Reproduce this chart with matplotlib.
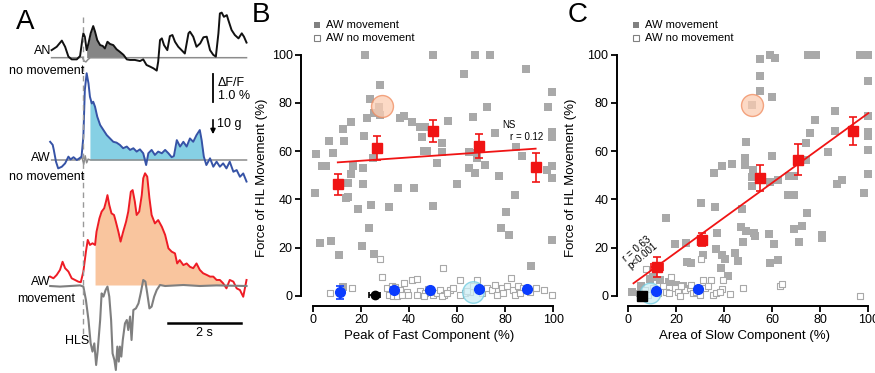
"""Calcium traces and force scatter plots (panels A-C)."""
import matplotlib
matplotlib.use("Agg")
import matplotlib.pyplot as plt
import numpy as np

plt.rcParams["font.family"] = ["Liberation Sans", "DejaVu Sans"]

W, H = 875, 373

# ---------------- panel A traces (time in s, stimulus at 0) ----------------
an_t = [-0.86, -0.72, -0.58, -0.49, -0.40, -0.31, -0.17, -0.08, -0.02, 0.01, 0.05, 0.10, 0.15,
        0.21, 0.28, 0.33, 0.39, 0.47, 0.54, 0.60, 0.67, 0.74, 0.83, 0.92, 1.01, 1.11, 1.20, 1.29,
        1.42, 1.56, 1.65, 1.74, 1.84, 1.93, 2.02, 2.06, 2.11, 2.16, 2.22, 2.31, 2.38, 2.45, 2.52,
        2.61, 2.70, 2.79, 2.89, 2.93, 3.02, 3.11, 3.21, 3.30, 3.39, 3.48, 3.57, 3.64, 3.71, 3.75,
        3.80, 3.86, 3.94, 3.98, 4.07, 4.16, 4.26, 4.35, 4.41, 4.48]
an_dff = [0.27, 0.39, 0.61, 0.39, 0.04, -0.06, -0.06, 0.06, 0.63, 0.87, 0.75, 0.27, 0.51,
          0.87, 1.13, 0.93, 0.63, 0.45, 0.42, 0.33, 0.57, 0.49, 0.45, 0.30, 0.21, 0.10, -0.06, -0.08,
          -0.08, -0.12, -0.06, -0.26, -0.32, -0.38, -0.46, -0.14, 0.63, 0.69, 0.45, 0.27, 0.77, 0.81, 0.57,
          0.39, 0.27, 0.15, 0.87, 0.93, 0.75, 0.39, 0.51, 0.73, 0.75, 0.27, 0.10, 0.04, 0.87, 1.58,
          1.61, 1.46, 1.52, 1.35, 0.99, 0.81, 0.69, 0.87, 0.75, 0.54]
an_base_t = [-0.86, -0.10, -0.02, 0.03, 0.08, 0.14, 0.20, 4.48]
an_base = [0.0, 0.0, 0.02, -0.12, -0.15, -0.06, 0.0, 0.0]

blue_t = [-0.90, -0.83, -0.80, -0.74, -0.68, -0.58, -0.49, -0.40, -0.34, -0.26, -0.17, -0.10, -0.04,
          0.01, 0.05, 0.10, 0.15, 0.19, 0.24, 0.28, 0.33, 0.39, 0.47, 0.56, 0.65, 0.74, 0.83, 0.92,
          1.01, 1.10, 1.20, 1.29, 1.38, 1.47, 1.56, 1.65, 1.73, 1.79, 1.88, 1.97, 2.06, 2.16, 2.25,
          2.34, 2.43, 2.49, 2.57, 2.66, 2.75, 2.84, 2.93, 3.02, 3.11, 3.20, 3.25, 3.31, 3.38, 3.48,
          3.57, 3.66, 3.75, 3.84, 3.93, 4.02, 4.12, 4.21, 4.30, 4.39, 4.48]
blue_dff = [0.65, 0.54, 0.36, -0.06, -0.30, -0.24, -0.12, 0.12, 0.02, 0.10, 0.0, 0.06, 0.12,
            0.83, 2.50, 3.10, 2.74, 2.26, 2.02, 2.08, 1.90, 1.55, 1.25, 1.07, 0.89, 0.77, 0.65, 0.62,
            0.54, 0.42, 0.48, 0.36, 0.42, 0.30, 0.38, 0.24, -0.18, 0.24, 0.36, 0.18, 0.30, 0.24, 0.36,
            0.24, 0.10, 0.14, 0.71, 0.48, 0.65, 0.48, 0.77, 0.65, 0.89, 1.07, 0.71, 0.12, -0.18, 0.06,
            -0.24, -0.06, -0.24, -0.12, -0.30, -0.06, -0.42, -0.36, -0.60, -0.48, -0.77]
blue_base_t = [-0.86, -0.10, -0.03, 0.02, 0.06, 0.10, 0.14, 0.20, 4.48]
blue_base = [0.0, 0.0, 0.10, -0.15, 0.15, -0.10, 0.03, 0.0, 0.0]

red_t = [-0.90, -0.81, -0.72, -0.63, -0.56, -0.49, -0.40, -0.31, -0.22, -0.13, -0.06, 0.01, 0.08,
         0.13, 0.19, 0.26, 0.33, 0.37, 0.45, 0.51, 0.58, 0.63, 0.67, 0.72, 0.78, 0.85, 0.90, 0.97,
         1.03, 1.10, 1.18, 1.24, 1.31, 1.36, 1.42, 1.47, 1.54, 1.61, 1.65, 1.70, 1.76, 1.82, 1.88,
         1.97, 2.06, 2.16, 2.25, 2.34, 2.43, 2.52, 2.58, 2.65, 2.75, 2.84, 2.93, 3.02, 3.11, 3.20,
         3.29, 3.39, 3.48, 3.57, 3.66, 3.75, 3.84, 3.93, 4.02, 4.12, 4.21, 4.30, 4.39, 4.48]
red_dff = [0.30, 0.24, 0.36, 0.54, 0.83, 0.60, 0.48, 0.24, 0.18, 0.12, 0.10, 0.48, 1.19,
           1.61, 1.43, 1.49, 1.43, 1.90, 2.38, 2.62, 2.74, 2.98, 3.21, 2.86, 2.56, 2.50, 2.26, 1.90,
           1.55, 1.90, 2.26, 2.62, 3.33, 3.39, 2.98, 2.50, 2.62, 3.21, 3.81, 3.99, 3.87, 3.10, 2.50,
           2.20, 2.32, 2.08, 1.79, 1.31, 1.19, 1.13, 0.77, 0.89, 0.71, 0.77, 0.65, 0.60, 0.77, 0.54,
           0.42, 0.36, 0.30, 0.30, 0.18, 0.18, 0.06, -0.12, 0.18, 0.12, -0.12, -0.18, -0.42, 0.18]

hls_t = [-0.90, -0.63, -0.35, -0.08, 0.01, 0.08, 0.15, 0.21, 0.26, 0.31, 0.36, 0.40, 0.47, 0.51,
         0.56, 0.62, 0.67, 0.72, 0.77, 0.81, 0.86, 0.90, 0.94, 0.98, 1.01, 1.05, 1.09, 1.15, 1.20,
         1.24, 1.29, 1.33, 1.38, 1.45, 1.52, 1.58, 1.65, 1.71, 1.76, 1.82, 1.88, 1.95, 2.02, 2.11,
         2.25, 2.75, 3.20, 3.66, 4.48]
hls_g = [0.0, -0.3, 0.0, 0.3, -0.3, -7.0, -17.0, -28.7, -32.8, -28.7, -39.5, -32.8, -17.0, -3.7,
         -5.3, -2.0, -0.3, -5.3, -17.0, -33.7, -37.0, -42.0, -30.3, -37.8, -30.3, -35.3, -27.0, -18.7, -17.0,
         -22.0, -15.3, -27.0, -12.0, -11.2, -8.7, -3.7, 3.0, 2.2, -3.7, -11.2, -10.3, -5.3, -2.0, 0.5,
         0.0, 0.5, 0.0, 0.3, 0.0]

# ---------------- panel B: peak of fast component ----------------
b_move_x = [1.4, 3.9, 5.5, 6.6, 8.3, 12.6, 13.1, 14.5, 16.0, 16.7, 16.0, 20.9, 20.9, 21.4, 21.6, 22.5,
            23.9, 25.3, 27.4, 28.1, 28.1, 25.0, 36.1, 38.0, 41.2, 44.4, 46.7, 45.4, 46.1, 47.4, 50.2,
            51.6, 53.7, 53.7, 56.4, 63.0, 64.9, 65.1, 66.8, 67.5, 67.5, 68.2, 68.5, 71.7, 72.3, 73.7,
            75.8, 77.5, 84.4, 86.9, 88.5, 97.5, 97.9, 99.7, 99.7, 99.7, 99.7, 99.7, 35.4, 42.3, 59.9,
            1.1, 2.9, 7.7, 10.8, 14.0, 14.5, 12.6, 18.8, 20.6, 23.4, 24.4, 25.3, 31.7, 49.9, 78.4,
            80.4, 81.7, 84.1, 90.6, 99.7]
b_move_y = [58.8, 53.9, 53.8, 64.0, 59.0, 69.2, 64.1, 46.6, 50.3, 53.9, 71.9, 46.3, 53.1, 66.3, 100.0, 73.5,
            81.4, 75.9, 78.3, 87.2, 74.9, 57.0, 73.5, 74.5, 72.1, 70.1, 70.1, 65.9, 60.1, 60.1, 100.0,
            54.9, 63.2, 59.7, 72.6, 92.1, 59.7, 52.8, 74.2, 100.0, 50.8, 57.0, 59.3, 54.2, 78.3, 100.0,
            67.3, 49.7, 61.5, 57.9, 93.8, 52.1, 78.3, 84.6, 68.0, 65.9, 53.9, 48.7, 44.5, 44.5, 46.5,
            42.7, 21.9, 22.9, 17.0, 40.6, 41.0, 3.5, 36.0, 20.5, 28.1, 37.7, 17.3, 36.8, 37.1, 28.1,
            34.8, 25.1, 42.0, 12.5, 23.0]
b_still_x = [7.1, 16.3, 28.1, 29.0, 30.8, 32.9, 34.3, 36.4, 37.8, 39.1, 41.2, 43.3, 44.7, 46.7, 48.1,
             50.2, 51.6, 53.0, 54.1, 54.6, 57.1, 58.5, 61.3, 63.3, 65.4, 66.8, 68.5, 70.3, 72.3, 74.4,
             75.8, 76.8, 78.6, 80.6, 82.3, 83.4, 84.1, 85.5, 87.6, 90.3, 92.8, 96.1, 99.7, 31.5, 33.3,
             35.0, 37.1, 39.8, 43.3, 46.1, 48.8, 53.7, 55.7, 61.3, 64.0, 79.3, 86.2]
b_still_y = [1.1, 3.2, 15.4, 7.8, 3.2, 4.2, 3.6, 2.5, 5.3, 1.8, 6.4, 6.9, 2.2, 1.1, 2.8,
             0.4, 1.1, 2.5, 11.5, 0.4, 2.5, 3.2, 6.6, 1.1, 1.8, 3.9, 6.6, 1.1, 3.2, 2.5,
             4.6, 0.4, 3.2, 3.9, 7.6, 2.5, 0.4, 4.2, 3.2, 1.8, 3.2, 2.5, 0.3, 0.4, 0.0,
             0.0, 0.4, 0.4, 0.4, 0.1, 1.8, 0.0, 1.1, 0.4, 2.2, 1.1, 1.1]
b_red_x = [10.4, 26.7, 50.2, 69.3, 92.7]
b_red_y = [46.2, 61.4, 68.3, 62.1, 53.2]
b_red_err = [4.3, 5.0, 4.7, 4.8, 6.0]
b_blue_x = [11.2, 33.9, 48.8, 69.2, 89.2]
b_blue_y = [1.4, 2.5, 2.5, 2.8, 2.8]
b_blue_err = [2.8, 1.0, 0.0, 0.0, 0.0]
b_black = (25.7, 0.3, 2.2)          # x, y, horizontal error
b_fit = (54.6, 0.069)               # intercept, slope
b_orange = (28.8, 78.8)
b_cyan = (66.8, 1.4)

# ---------------- panel C: area of slow component ----------------
c_move_x = [54.7, 54.7, 54.7, 58.9, 61.1, 60.0, 51.7, 74.9, 78.4, 96.5, 100.0, 100.0, 48.9, 48.7, 48.7,
            59.7, 51.9, 51.7, 51.4, 59.2, 62.4, 35.7, 39.0, 43.2, 67.0, 69.0, 66.6, 69.1, 74.0, 75.9,
            77.7, 74.0, 83.0, 86.2, 86.2, 87.0, 88.9, 98.3, 100.0, 100.0, 100.0, 100.0, 100.0,
            15.5, 19.4, 16.9, 24.5, 25.9, 23.8, 30.1, 31.2, 36.1, 37.0, 36.7, 39.1, 40.4, 38.6, 41.5,
            44.3, 45.7, 46.8, 47.5, 47.8, 48.9, 52.4, 52.6, 58.4, 60.6, 59.2, 62.4, 68.9, 70.9, 72.3,
            74.5, 80.8, 80.9, 1.4, 5.3, 8.8, 10.4, 13.0, 19.9, 22.7]
c_move_y = [98.3, 91.3, 85.0, 100.0, 98.7, 82.5, 79.0, 100.0, 100.0, 100.0, 100.0, 89.2, 63.6, 57.1, 54.3,
            58.0, 52.2, 49.4, 45.5, 47.3, 48.0, 51.0, 54.0, 54.6, 49.7, 49.7, 42.0, 41.7, 63.4, 67.3,
            72.9, 56.4, 59.6, 76.6, 68.5, 46.3, 48.0, 42.6, 74.5, 67.8, 66.2, 60.3, 50.5,
            32.1, 21.4, 5.9, 14.2, 13.5, 21.8, 38.6, 17.0, 36.7, 25.9, 19.3, 17.0, 15.3, 11.4, 8.4,
            17.7, 14.5, 28.7, 36.0, 22.3, 27.0, 26.2, 24.6, 25.7, 21.5, 13.5, 14.9, 27.6, 22.3, 29.0,
            34.5, 25.2, 23.9, 1.8, 3.9, 6.9, 8.0, 6.6, 4.6, 4.1]
c_still_x = [7.4, 17.8, 30.4, 31.1, 34.5, 39.4, 39.1, 42.2, 47.8, 63.1, 64.2, 96.5, 4.6, 6.7, 8.1,
             10.2, 12.3, 14.3, 15.5, 17.1, 19.2, 20.6, 21.3, 23.4, 25.5, 26.9, 28.3, 29.7, 31.8, 33.1,
             35.2, 36.6, 38.0, 26.2, 22.0]
c_still_y = [11.0, 7.7, 15.3, 6.6, 6.6, 6.6, 2.8, 0.8, 3.2, 3.9, 4.8, 0.0, 1.1, 2.5, 0.4,
             3.2, 1.1, 3.9, 1.8, 1.1, 3.2, 1.8, 0.0, 2.5, 3.2, 1.1, 1.8, 0.4, 3.2, 3.9,
             0.4, 1.1, 1.8, 4.6, 3.9]
c_red_x = [12.0, 30.8, 54.7, 70.8, 93.7]
c_red_y = [11.9, 23.2, 48.7, 56.4, 68.5]
c_red_err = [4.1, 2.7, 5.4, 6.5, 5.8]
c_red_xerr = [2.5, 0.0, 0.0, 0.0, 0.0]
c_blue_x = [11.3, 29.0]
c_blue_y = [2.2, 2.9]
c_black = (5.7, 0.0)
c_fit = (3.7, 0.72)
c_orange = (51.7, 79.0)
c_cyan = (8.8, 1.1)

GRAY = "#a9a9a9"
RED = "#f01414"
BLUE = "#0a3cff"


def figtext(fig, x, y, s, **kw):
    fig.text(x / W, 1 - y / H, s, **kw)


fig = plt.figure(figsize=(W / 100, H / 100), dpi=100)

# ---------------- panel A ----------------
axA = fig.add_axes([0, 0, 260 / W, 1])
X0, PX_S = 83.0, 36.5                       # pixel of t=0, pixels per second
axA.set_xlim(-X0 / PX_S, (260 - X0) / PX_S)
axA.set_ylim(-H, 0)
axA.axis("off")
PX_DFF, PX_G = 28.0, 2.0                    # pixels per 1 % dF/F and per gram


def trace(t, v, base, scale, color, lw=1.4, fill=None, span=None):
    t = np.asarray(t)
    y = -base + np.asarray(v) * scale
    if fill is not None:
        m = (t >= span[0]) & (t <= span[1])
        axA.fill_between(t[m], -base, np.maximum(y[m], -base), color=fill, lw=0)
    axA.plot(t, y, color=color, lw=lw)


trace(an_base_t, an_base, 57.7, PX_DFF, "#8c8c8c", lw=1.1)
trace(an_t, an_dff, 57.7, PX_DFF, "#111111", fill="#858585", span=(0.1, 1.2))
trace(blue_base_t, blue_base, 160, PX_DFF, "#8c8c8c", lw=1.1)
trace(blue_t, blue_dff, 160, PX_DFF, "#3653a6", fill="#86d0e4", span=(0.17, 3.31))
trace(red_t, red_dff, 285, PX_DFF, "#ee1c25", fill="#f9c59e", span=(0.30, 3.84))
trace(hls_t, hls_g, 286, PX_G, "#7f7f7f", lw=1.5)

axA.plot([0, 0], [-17, -335], color="#999999", lw=1, ls=(0, (4, 3)))
# scale bars
tb = (213 - X0) / PX_S
axA.plot([tb, tb], [-102, -102 + PX_DFF], color="black", lw=1.3)
axA.annotate("", xy=(tb, -137), xytext=(tb, -137 + 10 * PX_G),
             arrowprops=dict(arrowstyle="-|>", color="black", lw=1.2, mutation_scale=7))
axA.plot([(168 - X0) / PX_S, (168 - X0) / PX_S + 2], [-323, -323], color="black", lw=1.8)

fs = 9
figtext(fig, 16, 22, "A", fontsize=20, va="center")
figtext(fig, 51, 51, "AN", fontsize=fs, ha="right", va="center")
figtext(fig, 47, 71, "no movement", fontsize=fs, ha="center", va="center")
figtext(fig, 218, 83, "ΔF/F", fontsize=fs, va="center")
figtext(fig, 218, 96, "1.0 %", fontsize=fs, va="center")
figtext(fig, 217, 124, "10 g", fontsize=fs, va="center")
figtext(fig, 51, 158, "AW", fontsize=fs, ha="right", va="center")
figtext(fig, 47, 177, "no movement", fontsize=fs, ha="center", va="center")
figtext(fig, 51, 282, "AW", fontsize=fs, ha="right", va="center")
figtext(fig, 46, 299, "movement", fontsize=fs, ha="center", va="center")
figtext(fig, 65, 341, "HLS", fontsize=fs, va="center")
figtext(fig, 204, 333, "2 s", fontsize=fs, ha="center", va="center")


# ---------------- panels B and C ----------------
def scatter_panel(ax, mx, my, sx, sy, fit, fit_span, xlabel, leg_x):
    ax.set_xlim(-4.9, 102)
    ax.set_ylim(-4.2, 102)
    for side in ("top", "right"):
        ax.spines[side].set_visible(False)
    for side in ("left", "bottom"):
        ax.spines[side].set_bounds(0, 100)
        ax.spines[side].set_linewidth(1.4)
    ax.set_xticks(range(0, 101, 20))
    ax.set_yticks(range(0, 101, 20))
    ax.tick_params(length=4, width=1.3, labelsize=9, pad=2)
    ax.set_xlabel(xlabel, fontsize=9.5, labelpad=3)
    ax.set_ylabel("Force of HL Movement (%)", fontsize=9.5)
    ax.scatter(mx, my, marker="s", s=26, color=GRAY, lw=0, clip_on=False, zorder=2)
    ax.scatter(sx, sy, marker="s", s=21, facecolor="white", edgecolor=GRAY, lw=0.8,
               clip_on=False, zorder=2)
    xf = np.array(fit_span)
    ax.plot(xf, fit[0] + fit[1] * xf, color=RED, lw=1.3, zorder=3)
    # legend
    ax.plot([leg_x], [1.096], marker="s", ms=5, color="#808080", mew=0,
            transform=ax.transAxes, clip_on=False)
    ax.plot([leg_x], [1.046], marker="s", ms=5, mfc="white", mec="#808080", mew=0.8,
            transform=ax.transAxes, clip_on=False)
    ax.text(leg_x + 0.035, 1.096, "AW movement", fontsize=8, va="center", transform=ax.transAxes)
    ax.text(leg_x + 0.035, 1.046, "AW no movement", fontsize=8, va="center", transform=ax.transAxes)


def highlight(ax, xy, face, edge, size):
    ax.scatter([xy[0]], [xy[1]], s=size, facecolor=face, edgecolor=edge, lw=1,
               alpha=0.75, zorder=4, clip_on=False)


axB = fig.add_axes([301 / W, 1 - 306 / H, 257 / W, 256.3 / H])
scatter_panel(axB, b_move_x, b_move_y, b_still_x, b_still_y, b_fit,
              (b_red_x[0], b_red_x[-1]), "Peak of Fast Component (%)", 0.062)
axB.yaxis.set_label_coords(-0.13, 0.5)
axB.errorbar(b_red_x, b_red_y, yerr=b_red_err, fmt="s", ms=7.5, color=RED, ecolor=RED,
             elinewidth=1.2, capsize=3, capthick=1.2, zorder=5)
axB.errorbar(b_blue_x, b_blue_y, yerr=b_blue_err, fmt="o", ms=7, color=BLUE, ecolor=BLUE,
             elinewidth=1.2, capsize=3, capthick=1.2, zorder=5)
axB.errorbar([b_black[0]], [b_black[1]], xerr=[b_black[2]], fmt="o", ms=6, color="black",
             elinewidth=1.2, capsize=2.5, capthick=1.2, zorder=5)
highlight(axB, b_orange, "#fbcdb2", "#f08a5d", 250)
highlight(axB, b_cyan, "#cdeef5", "#6ccbe0", 240)
axB.text(81.8, 71.0, "NS", fontsize=7, ha="center", va="center")
axB.text(89.0, 66.0, "r = 0.12", fontsize=7, ha="center", va="center")
axB.text(-0.19, 1.135, "B", fontsize=20, transform=axB.transAxes, va="center")

axC = fig.add_axes([616.7 / W, 1 - 306 / H, 256.4 / W, 256.3 / H])
scatter_panel(axC, c_move_x, c_move_y, c_still_x, c_still_y, c_fit,
              (2.1, 100), "Area of Slow Component (%)", 0.075)
axC.yaxis.set_label_coords(-0.155, 0.5)
axC.errorbar(c_red_x, c_red_y, yerr=c_red_err, xerr=c_red_xerr, fmt="s", ms=7.5, color=RED,
             ecolor=RED, elinewidth=1.2, capsize=3, capthick=1.2, zorder=5)
axC.plot(c_blue_x, c_blue_y, "o", ms=7, color=BLUE, zorder=5)
axC.plot([c_black[0]], [c_black[1]], "s", ms=6.5, color="black", zorder=5)
highlight(axC, c_orange, "#fbcdb2", "#f08a5d", 250)
highlight(axC, c_cyan, "#cdeef5", "#6ccbe0", 220)
axC.text(4.8, 18.0, "r = 0.63\np<0.001", fontsize=7, ha="center", va="center",
         rotation=40, linespacing=0.95)
axC.text(-0.19, 1.135, "C", fontsize=20, transform=axC.transAxes, va="center")

fig.savefig("out.png", dpi=100)
